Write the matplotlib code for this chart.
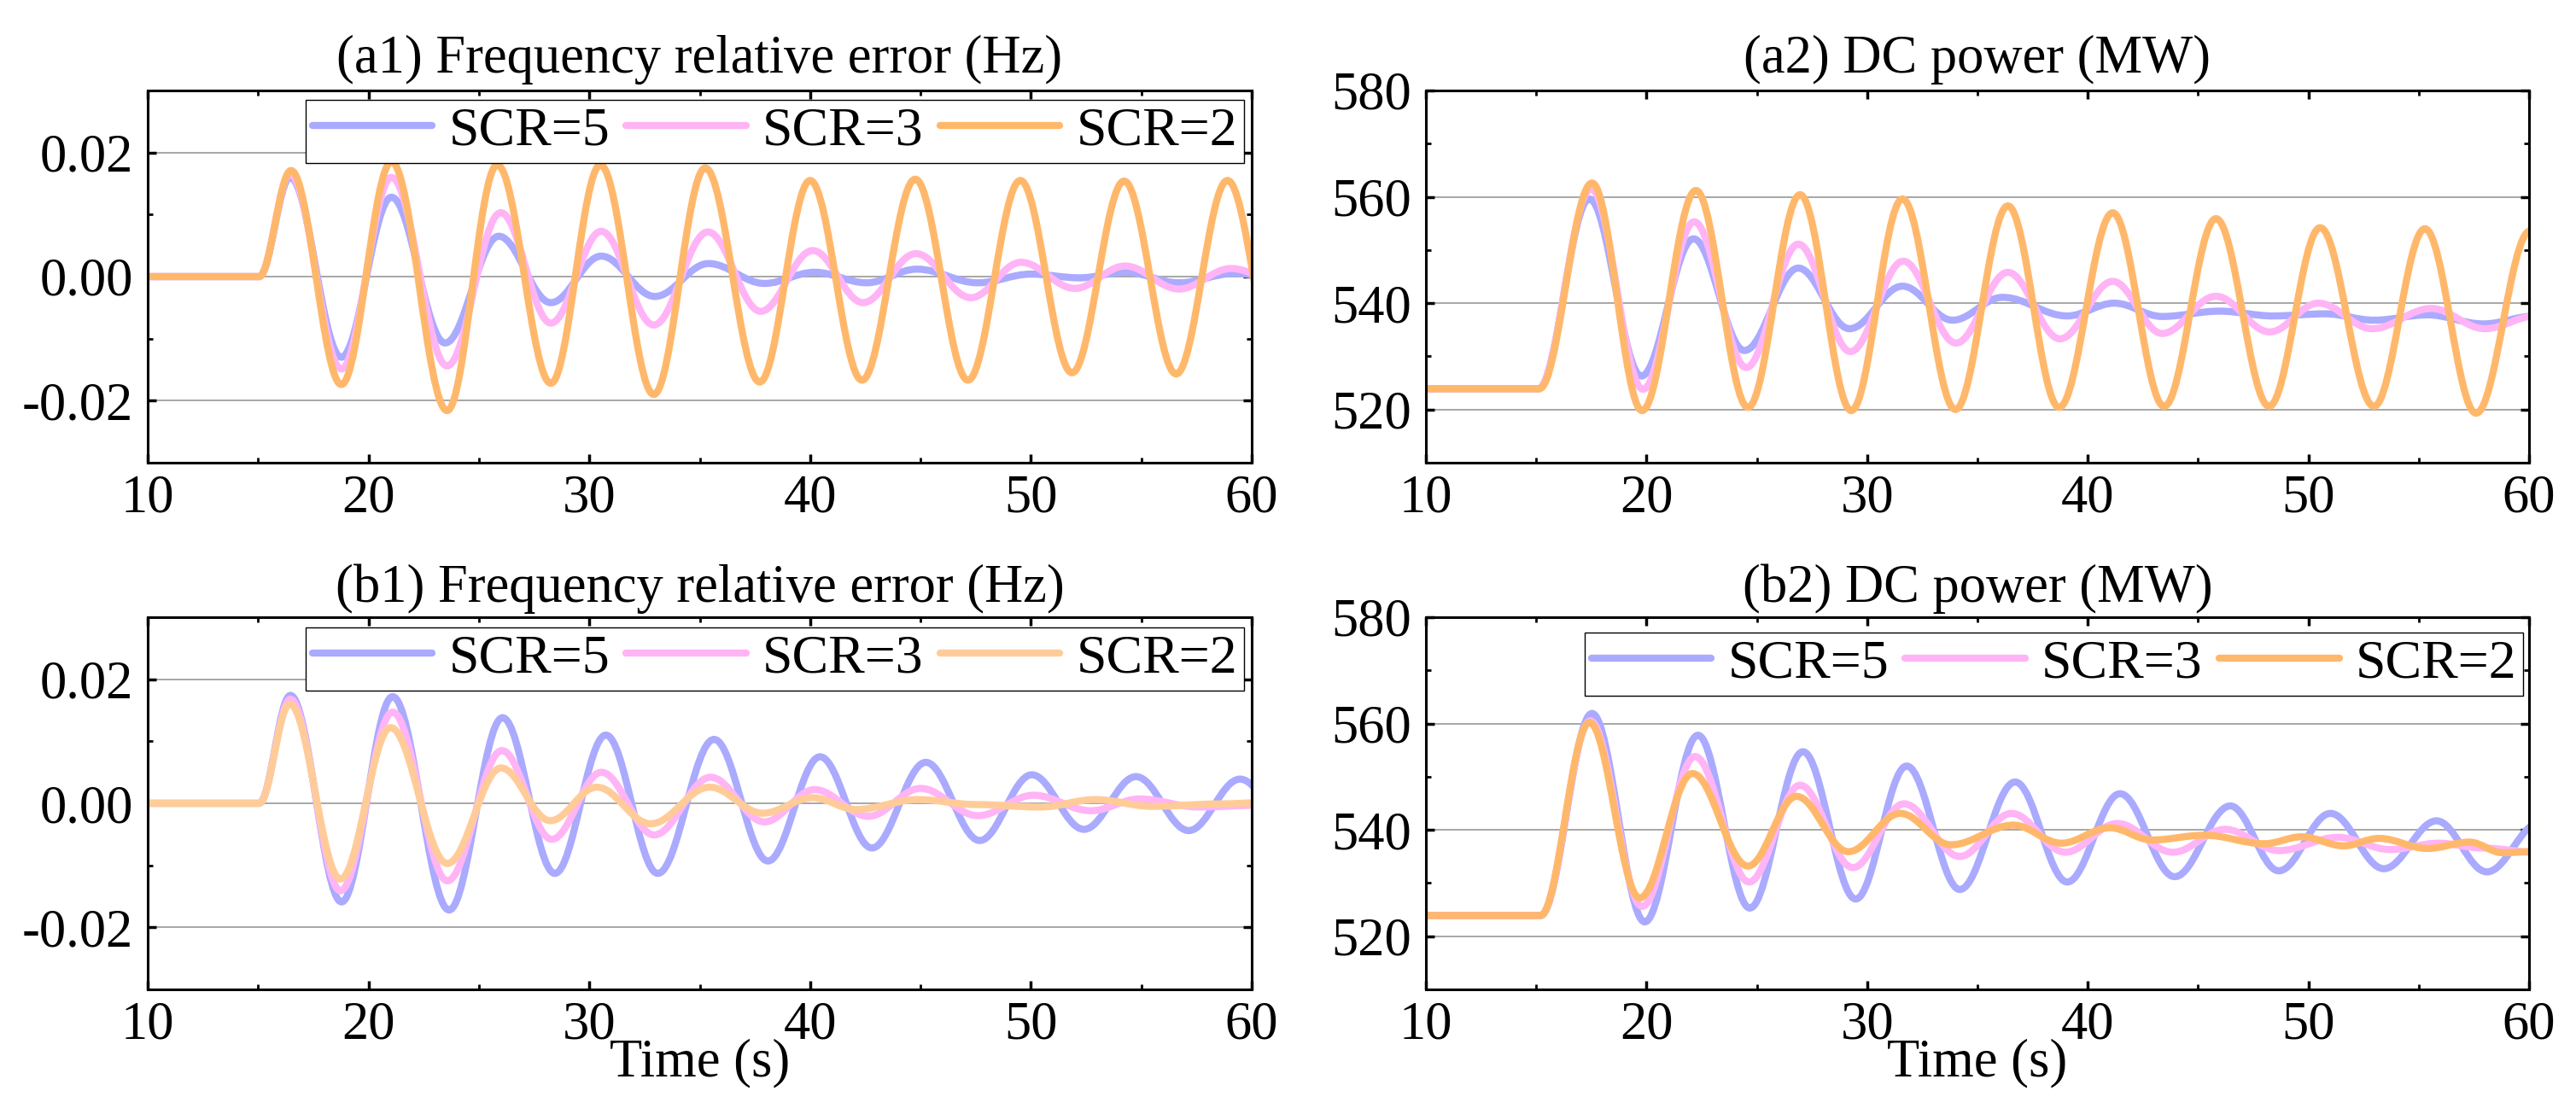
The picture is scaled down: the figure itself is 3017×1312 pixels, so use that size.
import matplotlib
matplotlib.use('Agg')
import matplotlib.pyplot as plt
from matplotlib.path import Path
from matplotlib.patches import PathPatch
from matplotlib.lines import Line2D
from matplotlib.ticker import MultipleLocator, FixedLocator, FormatStrFormatter

# ---------------- data (extrema) ----------------
labels = ['SCR=5', 'SCR=3', 'SCR=2']
freq_ticks = [-0.02, 0.00, 0.02]
power_ticks = [520, 540, 560, 580]
x_ticks = [10, 20, 30, 40, 50, 60]

# (a1) Frequency relative error (Hz)
a1_t5 = [10, 15.05, 16.45, 18.77, 21.04, 23.47, 25.9, 28.26, 30.54, 32.97, 35.4, 37.93, 40.2, 42.56, 44.84, 47.6, 50.0, 52.2, 54.3, 56.7, 59.2, 61.5]
a1_v5 = [0, 0, 0.0160, -0.0130, 0.0128, -0.0107, 0.0065, -0.0042, 0.0033, -0.0032, 0.0021, -0.0011, 0.0007, -0.0010, 0.0012, -0.0010, 0.0004, -0.0002, 0.0007, -0.0010, 0.0005, -0.0004]
a1_t3 = [10, 15.05, 16.45, 18.77, 21.04, 23.56, 25.99, 28.26, 30.54, 32.92, 35.37, 37.76, 40.12, 42.4, 44.79, 47.28, 49.55, 51.99, 54.27, 56.7, 59.07, 61.4]
a1_v3 = [0, 0, 0.0165, -0.0149, 0.0160, -0.0144, 0.0103, -0.0075, 0.0073, -0.0078, 0.0072, -0.0056, 0.0042, -0.0042, 0.0037, -0.0034, 0.0023, -0.0019, 0.0017, -0.0020, 0.0013, -0.0010]
a1_t2 = [10, 15.05, 16.49, 18.77, 21.04, 23.56, 25.83, 28.26, 30.5, 32.92, 35.25, 37.72, 40.0, 42.35, 44.76, 47.15, 49.52, 51.86, 54.22, 56.58, 58.9, 61.25]
a1_v2 = [0, 0, 0.0171, -0.0174, 0.0185, -0.0216, 0.0180, -0.0172, 0.0180, -0.0190, 0.0175, -0.0170, 0.0155, -0.0167, 0.0157, -0.0167, 0.0155, -0.0155, 0.0154, -0.0157, 0.0155, -0.0155]

# (a2) DC power (MW)
a2_t5 = [10, 15.1, 17.41, 19.77, 22.13, 24.44, 26.88, 29.2, 31.6, 33.87, 36.14, 39.07, 41.2, 43.37, 45.98, 48.4, 50.77, 52.97, 55.4, 57.93, 60.3]
a2_v5 = [523.9, 523.9, 559.6, 526.3, 552.1, 531.1, 546.6, 535.2, 543.2, 536.8, 541.1, 537.6, 540.0, 537.5, 538.5, 537.6, 538.0, 536.8, 537.8, 536.1, 537.6]
a2_t3 = [10, 15.1, 17.48, 19.84, 22.16, 24.52, 26.88, 29.24, 31.64, 34.03, 36.38, 38.74, 41.13, 43.37, 45.81, 48.25, 50.45, 52.89, 55.57, 58.0, 60.3]
a2_v3 = [523.9, 523.9, 561.5, 523.8, 555.3, 527.9, 551.1, 530.9, 547.9, 532.5, 545.8, 533.3, 544.1, 534.3, 541.3, 534.6, 540.0, 535.2, 539.0, 535.2, 537.6]
a2_t2 = [10, 15.14, 17.53, 19.8, 22.24, 24.6, 26.96, 29.28, 31.6, 34.0, 36.38, 38.7, 41.13, 43.46, 45.81, 48.22, 50.53, 52.97, 55.28, 57.6, 60.05]
a2_v2 = [523.9, 523.9, 562.6, 519.8, 561.2, 520.4, 560.4, 519.8, 559.6, 520.0, 558.3, 520.4, 557.0, 520.6, 555.9, 520.6, 554.2, 520.6, 554.0, 519.3, 553.6]

# (b1) Frequency relative error (Hz)
b1_t5 = [10, 15.05, 16.46, 18.78, 21.09, 23.65, 26.07, 28.44, 30.75, 33.1, 35.65, 38.09, 40.45, 42.8, 45.24, 47.68, 50.04, 52.4, 54.76, 57.15, 59.47, 61.8]
b1_v5 = [0, 0, 0.0174, -0.0159, 0.0172, -0.0172, 0.0138, -0.0113, 0.0110, -0.0113, 0.0103, -0.0093, 0.0075, -0.0072, 0.0066, -0.0060, 0.0046, -0.0042, 0.0043, -0.0044, 0.0039, -0.0038]
b1_t3 = [10, 15.05, 16.46, 18.73, 21.09, 23.57, 26.04, 28.3, 30.55, 32.94, 35.49, 37.93, 40.2, 42.64, 45.0, 47.6, 50.12, 52.72, 54.92, 57.6, 60.5]
b1_v3 = [0, 0, 0.0168, -0.0141, 0.0147, -0.0125, 0.0085, -0.0058, 0.0050, -0.0051, 0.0042, -0.0030, 0.0022, -0.0021, 0.0024, -0.0020, 0.0013, -0.0012, 0.0007, -0.0006, -0.0003]
b1_t2 = [10, 15.05, 16.43, 18.73, 21.0, 23.57, 26.0, 28.23, 30.34, 32.78, 35.45, 37.85, 40.12, 42.07, 44.9, 47.5, 50.45, 52.9, 55.5, 58.5, 60.5]
b1_v2 = [0, 0, 0.0160, -0.0122, 0.0122, -0.0097, 0.0057, -0.0028, 0.0026, -0.0033, 0.0026, -0.0016, 0.0009, -0.0010, 0.0006, -0.0002, -0.0006, 0.0006, -0.0005, -0.0001, 0.0001]

# (b2) DC power (MW)
b2_t5 = [10, 15.2, 17.53, 19.92, 22.33, 24.68, 27.09, 29.48, 31.79, 34.2, 36.71, 39.07, 41.46, 43.94, 46.46, 48.66, 51.0, 53.42, 55.81, 58.09, 60.5]
b2_v5 = [523.9, 523.9, 561.9, 522.7, 557.8, 525.3, 554.7, 527.0, 552.0, 528.8, 549.0, 530.2, 546.8, 531.2, 544.5, 532.3, 543.1, 532.7, 541.7, 532.1, 541.4]
b2_t3 = [10, 15.2, 17.45, 19.8, 22.2, 24.65, 26.96, 29.35, 31.67, 34.2, 36.54, 38.98, 41.34, 43.86, 46.22, 48.66, 51.34, 53.7, 55.9, 57.85, 60.5]
b2_v3 = [523.9, 523.9, 560.5, 525.6, 553.8, 530.2, 548.4, 532.9, 544.9, 535.0, 543.1, 535.8, 541.2, 535.8, 540.1, 536.1, 538.6, 536.3, 537.5, 536.6, 535.7]
b2_t2 = [10, 15.2, 17.41, 19.69, 22.08, 24.6, 26.8, 29.15, 31.5, 33.79, 36.63, 38.8, 41.0, 42.9, 45.3, 48.0, 49.7, 51.6, 53.2, 55.4, 57.3, 58.8, 60.5]
b2_v2 = [523.9, 523.9, 560.2, 527.2, 550.6, 533.2, 546.3, 535.9, 543.1, 537.2, 540.9, 537.5, 540.4, 538.1, 539.0, 537.4, 538.7, 537.0, 538.4, 536.5, 537.7, 535.7, 536.0]

# ---------------- style ----------------
C5 = '#AAAAFF'
C3 = '#FFB4F5'
C2 = '#FFB86B'
C2_LIGHT = '#FFCC99'
LW = 6.0

plt.rcParams['font.family'] = ['Liberation Serif', 'DejaVu Serif']
plt.rcParams['axes.unicode_minus'] = False

W, H = 3017, 1312
fig = plt.figure(figsize=(W / 100, H / 100), dpi=100)

def make_axes(x0, y0, x1, y1):
    return fig.add_axes([x0 / W, 1 - y1 / H, (x1 - x0) / W, (y1 - y0) / H])

ax_a1 = make_axes(173, 106, 1466, 542)
ax_a2 = make_axes(1670, 106, 2962, 542)
ax_b1 = make_axes(173, 723, 1466, 1159)
ax_b2 = make_axes(1670, 723, 2962, 1159)


def smooth_curve(ax, t, v, color):
    k = 0.3634
    verts = [(t[0], v[0])]
    codes = [Path.MOVETO]
    for i in range(len(t) - 1):
        d = t[i + 1] - t[i]
        verts += [(t[i] + k * d, v[i]), (t[i + 1] - k * d, v[i + 1]), (t[i + 1], v[i + 1])]
        codes += [Path.CURVE4] * 3
    ax.add_patch(PathPatch(Path(verts, codes), fill=False, edgecolor=color,
                           lw=LW, capstyle='round', joinstyle='round'))


def style(ax, ylim, yticks, yminor, fmt):
    ax.set_xlim(10, 60)
    ax.set_ylim(*ylim)
    ax.xaxis.set_major_locator(FixedLocator(x_ticks))
    ax.xaxis.set_minor_locator(MultipleLocator(5))
    ax.yaxis.set_major_locator(FixedLocator(yticks))
    ax.yaxis.set_minor_locator(MultipleLocator(yminor))
    ax.yaxis.set_major_formatter(FormatStrFormatter(fmt))
    ax.tick_params(which='both', direction='in', top=True, right=True, labelsize=45)
    ax.tick_params(which='major', length=7, width=2.5)
    ax.tick_params(which='minor', length=4.5, width=2)
    ax.tick_params(axis='x', which='major', pad=9.5)
    ax.tick_params(axis='y', which='major', pad=12)
    for s in ax.spines.values():
        s.set_linewidth(2.2)
    ax.yaxis.grid(True, color='#A0A0A0', lw=1.3)
    ax.set_axisbelow(True)


def legend(ax, colors, anchor):
    handles = [Line2D([], [], color=c, lw=LW, solid_capstyle='round') for c in colors]
    leg = ax.legend(handles, labels, loc='upper right', bbox_to_anchor=anchor, ncol=3,
                    fontsize=46, frameon=True, fancybox=False, edgecolor='black',
                    framealpha=1, borderpad=0.12, handlelength=2.2, handletextpad=0.3,
                    columnspacing=0.3, borderaxespad=0)
    leg.get_frame().set_linewidth(1.0)
    leg.set_zorder(10)


# (a1)
style(ax_a1, (-0.03, 0.03), freq_ticks, 0.01, '%.2f')
smooth_curve(ax_a1, a1_t5, a1_v5, C5)
smooth_curve(ax_a1, a1_t3, a1_v3, C3)
smooth_curve(ax_a1, a1_t2, a1_v2, C2)
ax_a1.set_title('(a1) Frequency relative error (Hz)', fontsize=45, pad=15)
legend(ax_a1, [C5, C3, C2], (0.993, 0.975))

# (a2)
style(ax_a2, (510, 580), power_ticks, 10, '%d')
smooth_curve(ax_a2, a2_t5, a2_v5, C5)
smooth_curve(ax_a2, a2_t3, a2_v3, C3)
smooth_curve(ax_a2, a2_t2, a2_v2, C2)
ax_a2.set_title('(a2) DC power (MW)', fontsize=45, pad=15)

# (b1)
style(ax_b1, (-0.03, 0.03), freq_ticks, 0.01, '%.2f')
smooth_curve(ax_b1, b1_t5, b1_v5, C5)
smooth_curve(ax_b1, b1_t3, b1_v3, C3)
smooth_curve(ax_b1, b1_t2, b1_v2, C2_LIGHT)
ax_b1.set_title('(b1) Frequency relative error (Hz)', fontsize=45, pad=13)
ax_b1.set_xlabel('Time (s)', fontsize=45, labelpad=-10)
legend(ax_b1, [C5, C3, C2_LIGHT], (0.993, 0.973))

# (b2)
style(ax_b2, (510, 580), power_ticks, 10, '%d')
smooth_curve(ax_b2, b2_t5, b2_v5, C5)
smooth_curve(ax_b2, b2_t3, b2_v3, C3)
smooth_curve(ax_b2, b2_t2, b2_v2, C2)
ax_b2.set_title('(b2) DC power (MW)', fontsize=45, pad=13)
ax_b2.set_xlabel('Time (s)', fontsize=45, labelpad=-10)
legend(ax_b2, [C5, C3, C2], (0.9946, 0.959))

fig.savefig('out.png', dpi=100)
